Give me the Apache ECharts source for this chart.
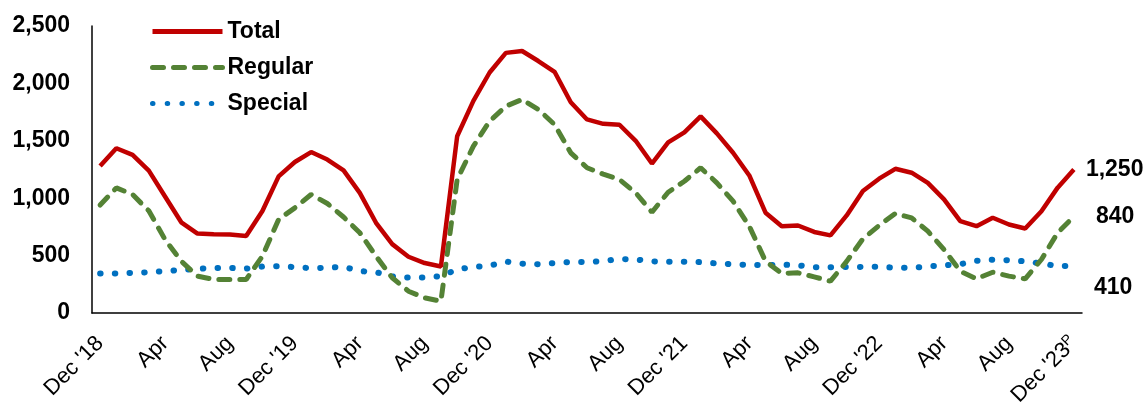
<!DOCTYPE html>
<html>
<head>
<meta charset="utf-8">
<script src="https://cdn.jsdelivr.net/npm/echarts@6/dist/echarts.min.js"></script>
<style>
html,body{margin:0;padding:0;background:#fff;}
#c{width:1146px;height:404px;}
</style>
</head>
<body>
<div id="c"></div>
<script>
var categories = [
  "Dec '18","Jan","Feb","Mar","Apr","May","Jun","Jul","Aug","Sep","Oct","Nov",
  "Dec '19","Jan","Feb","Mar","Apr","May","Jun","Jul","Aug","Sep","Oct","Nov",
  "Dec '20","Jan","Feb","Mar","Apr","May","Jun","Jul","Aug","Sep","Oct","Nov",
  "Dec '21","Jan","Feb","Mar","Apr","May","Jun","Jul","Aug","Sep","Oct","Nov",
  "Dec '22","Jan","Feb","Mar","Apr","May","Jun","Jul","Aug","Sep","Oct","Nov",
  "Dec '23P"
];
var total = [1280,1435,1378,1240,1015,790,692,686,684,670,
  888,1190,1315,1402,1337,1242,1047,786,600,490,
  435,405,1540,1848,2095,2266,2282,2195,2101,1836,
  1686,1648,1640,1500,1302,1487,1574,1713,1565,1396,
  1198,874,756,762,706,676,850,1062,1170,1256,
  1222,1133,990,800,756,830,771,736,886,1092,1250];
var regular = [940,1090,1032,890,640,451,321,292,292,292,
  495,815,916,1032,954,836,699,495,307,190,
  132,103,1163,1453,1671,1801,1860,1773,1642,1395,
  1265,1210,1163,1047,878,1052,1148,1265,1134,974,
  756,451,344,350,315,277,450,646,762,867,
  829,713,553,364,298,355,321,298,466,699,840];
var special = [344,344,350,355,366,375,385,392,393,386,
  405,408,400,390,395,402,365,356,318,308,
  310,320,380,400,412,448,430,425,435,445,
  444,453,470,466,450,446,446,443,432,424,
  418,417,422,415,399,399,400,402,402,395,
  393,405,416,425,455,465,459,450,432,408,410];
var yTicks = [0, 500, 1000, 1500, 2000, 2500];

var FONT = "'Liberation Sans', Arial, sans-serif";
function fmt(v){ return v.toString().replace(/\B(?=(\d{3})+(?!\d))/g, ","); }

var chart = echarts.init(document.getElementById('c'));
chart.setOption({
  animation: false,
  textStyle: {fontFamily: FONT, color: '#000'},
  grid: {left: 92, right: 64, top: 26, bottom: 91, containLabel: false, outerBoundsMode: 'none'},
  legend: {
    orient: 'vertical', left: 145, top: 15,
    itemWidth: 70, itemHeight: 20, itemGap: 13,
    itemStyle: {opacity: 0},
    lineStyle: {width: 5},
    textStyle: {fontFamily: FONT, fontSize: 23, fontWeight: 'bold', color: '#000'},
    data: ['Total','Regular','Special']
  },
  xAxis: {
    type: 'category', data: categories, boundaryGap: true,
    axisLine: {show: true, lineStyle: {color: '#000', width: 1.5}},
    axisTick: {show: false},
    axisLabel: {
      interval: 3, rotate: 45, margin: 27, fontSize: 22, color: '#000', fontFamily: FONT,
      formatter: function(v){
        if (v.slice(-1) === 'P') return "{a|" + v.slice(0, -1) + "}{p|P}";
        return "{a|" + v + "}";
      },
      rich: {
        a: {fontSize: 22, fontFamily: FONT, color: '#000'},
        p: {fontSize: 14, fontFamily: FONT, color: '#000', verticalAlign: 'top', padding: [0,0,9,0]}
      }
    }
  },
  yAxis: {
    type: 'value', min: yTicks[0], max: yTicks[yTicks.length-1], interval: 500,
    axisLine: {show: true, lineStyle: {color: '#000', width: 1.5}},
    axisTick: {show: false},
    splitLine: {show: false},
    axisLabel: {fontSize: 23, fontWeight: 'bold', color: '#000', margin: 22, fontFamily: FONT,
      padding: [3, 0, 0, 0],
      formatter: function(v){ return fmt(v); }}
  },
  series: [
    {
      name: 'Total', type: 'line', data: total, symbol: 'none', z: 3,
      lineStyle: {color: '#C00000', width: 4.5},
      itemStyle: {color: '#C00000'},
      endLabel: {show: true, formatter: function(p){return fmt(p.value);}, distance: 12,
        fontSize: 23, fontWeight: 'bold', color: '#000', fontFamily: FONT}
    },
    {
      name: 'Regular', type: 'line', data: regular, symbol: 'none', z: 2,
      lineStyle: {color: '#548235', width: 5, type: [11, 10], cap: 'round'},
      itemStyle: {color: '#548235'},
      endLabel: {show: true, formatter: function(p){return fmt(p.value);}, distance: 22,
        fontSize: 23, fontWeight: 'bold', color: '#000', fontFamily: FONT}
    },
    {
      name: 'Special', type: 'line', data: special, symbol: 'none', z: 1,
      lineStyle: {color: '#0070C0', width: 6, type: [0.5, 14.2], cap: 'round'},
      itemStyle: {color: '#0070C0'},
      endLabel: {show: true, formatter: function(p){return fmt(p.value);}, distance: 20, offset: [0, 22],
        fontSize: 23, fontWeight: 'bold', color: '#000', fontFamily: FONT}
    }
  ]
});
</script>
</body>
</html>
